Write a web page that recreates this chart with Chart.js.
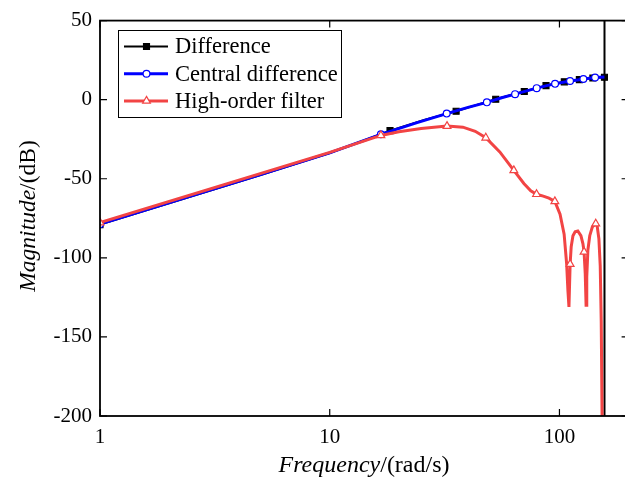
<!DOCTYPE html>
<html>
<head>
<meta charset="utf-8">
<script src="https://cdn.jsdelivr.net/npm/chart.js@4.4.1/dist/chart.umd.min.js"></script>
<style>
html, body { margin: 0; padding: 0; overflow: hidden; background: #fff; }
canvas { display: block; }
</style>
</head>
<body>
<canvas id="bode" width="632" height="484"></canvas>
<script>
// values: frequency in rad/s, magnitude in dB
const diffFreq = [1, 5, 10, 18.3, 26, 35.5, 44, 52.8, 61, 70.3, 78, 87.4, 96, 105, 113, 122.1, 131, 139.8, 148, 157, 157.08, 157.08];
const diffMag = [-79.0, -47.6, -33.8, -19.6, -12.6, -7.3, -3.1, 0.3, 2.9, 5.2, 7.0, 8.9, 10.2, 11.3, 12.0, 12.7, 13.3, 13.7, 14.0, 14.2, 60, -260];
const diffMarkFreq = [1, 18.3, 35.5, 52.8, 70.3, 87.4, 105, 122.1, 139.8, 157];
const diffMarkMag = [-79.0, -19.6, -7.3, 0.3, 5.2, 8.9, 11.3, 12.7, 13.7, 14.2];

const centFreq = [1, 5, 10, 16.7, 24, 32.3, 40, 48.3, 56, 64.1, 72, 79.6, 88, 95.7, 104, 111.2, 120, 127.1, 135, 142.9, 150, 157];
const centMag = [-78.7, -47.4, -33.6, -21.9, -14.5, -8.8, -4.9, -1.7, 1.2, 3.5, 5.6, 7.3, 8.9, 10.0, 11.0, 11.8, 12.5, 13.1, 13.6, 14.0, 14.2, 14.3];
const centMarkFreq = [1, 16.7, 32.3, 48.3, 64.1, 79.6, 95.7, 111.2, 127.1, 142.9];
const centMarkMag = [-78.7, -21.9, -8.8, -1.7, 3.5, 7.3, 10.0, 11.8, 13.1, 14.0];

const filtFreq = [1, 10, 16.7, 20, 25, 32.4, 38, 43, 47.8, 55, 63.3, 70, 75, 79.5, 85, 90, 95.5, 100.6, 104.8, 107.5, 108.9, 110, 111.3, 112.5, 114.5, 117, 120.2, 124, 126.5, 128, 129.5, 130.6, 131.5, 133, 135.5, 139, 143.9, 146, 148.5, 150.5, 152, 153.3, 154.5];
const filtMag = [-77.7, -33.3, -22.6, -20.3, -18.2, -16.7, -17.4, -20.0, -24.1, -33.0, -44.7, -53.0, -57.6, -59.8, -61.0, -62.3, -64.3, -72.4, -85, -104, -121, -131, -104, -93, -86, -83.5, -83, -86, -91, -96.2, -110, -130, -112, -95, -86, -80.5, -78.4, -80, -88, -105, -140, -200, -260];
const filtMarkFreq = [1, 16.7, 32.4, 47.8, 63.3, 79.5, 95.5, 111.3, 128, 143.9];
const filtMarkMag = [-77.7, -22.6, -16.7, -24.1, -44.7, -59.8, -64.3, -104, -96.2, -78.4];

const xTickLabels = [1, 10, 100];
const yTickValues = [50, 0, -50, -100, -150, -200];
const seriesNames = ['Difference', 'Central difference', 'High-order filter'];

const RED = '#f24444';
const BLUE = '#0000ff';
const BLACK = '#000000';
const FONT = "'Liberation Serif', 'Times New Roman', serif";

const toPoints = (xs, ys) => xs.map((x, i) => ({ x: x, y: ys[i] }));

// inward ticks on all four sides + closed box, titles, legend
const frame = {
    id: 'frame',
    afterDraw(chart) {
        const { ctx, chartArea: a, scales } = chart;
        const xs = scales.x, ys = scales.y;
        ctx.save();
        ctx.strokeStyle = '#000';
        ctx.lineWidth = 1.2;
        ctx.beginPath();
        xs.ticks.forEach(t => {
            const px = xs.getPixelForValue(t.value);
            if (px < a.left - 0.5 || px > a.right + 0.5) return;
            const lg = Math.log10(t.value);
            const len = Math.abs(lg - Math.round(lg)) < 1e-9 ? 7 : 4;
            ctx.moveTo(px, a.bottom); ctx.lineTo(px, a.bottom - len);
            ctx.moveTo(px, a.top); ctx.lineTo(px, a.top + len);
        });
        yTickValues.forEach(v => {
            const py = ys.getPixelForValue(v);
            ctx.moveTo(a.left, py); ctx.lineTo(a.left + 7, py);
            ctx.moveTo(a.right, py); ctx.lineTo(a.right - 7, py);
        });
        ctx.stroke();
        ctx.lineWidth = 1.8;
        ctx.strokeRect(a.left, a.top, a.right - a.left, a.bottom - a.top);

        // axis titles (italic quantity + upright unit)
        ctx.fillStyle = '#000';
        ctx.textBaseline = 'middle';
        ctx.textAlign = 'left';
        const drawTitle = (it, rest, cx, cy, rot, size) => {
            ctx.save();
            ctx.translate(cx, cy);
            ctx.rotate(rot);
            ctx.font = 'italic ' + size + 'px ' + FONT;
            const w1 = ctx.measureText(it).width;
            ctx.font = size + 'px ' + FONT;
            const w2 = ctx.measureText(rest).width;
            const x0 = -(w1 + w2) / 2;
            ctx.font = 'italic ' + size + 'px ' + FONT;
            ctx.fillText(it, x0, 0);
            ctx.font = size + 'px ' + FONT;
            ctx.fillText(rest, x0 + w1, 0);
            ctx.restore();
        };
        drawTitle('Frequency', '/(rad/s)', 364, 466, 0, 24);
        drawTitle('Magnitude', '/(dB)', 29, 216, -Math.PI / 2, 23.5);

        // legend box
        const lx = 118, ly = 30, lw = 223, lh = 87;
        ctx.fillStyle = '#fff';
        ctx.fillRect(lx, ly, lw, lh);
        ctx.lineWidth = 1;
        ctx.strokeRect(lx + 0.5, ly + 0.5, lw, lh);
        const styles = [
            { color: BLACK, width: 2, point: 'rect', radius: 4.2, fill: BLACK },
            { color: BLUE, width: 3, point: 'circle', radius: 3.4, fill: '#fff' },
            { color: RED, width: 3, point: 'triangle', radius: 4.5, fill: '#fff' }
        ];
        seriesNames.forEach((name, i) => {
            const s = styles[i];
            const yy = 46.5 + i * 27.2;
            ctx.strokeStyle = s.color;
            ctx.lineWidth = s.width;
            ctx.beginPath();
            ctx.moveTo(124, yy); ctx.lineTo(168, yy);
            ctx.stroke();
            ctx.fillStyle = s.fill;
            ctx.lineWidth = 1.2;
            Chart.helpers.drawPoint(ctx, { pointStyle: s.point, radius: s.radius, rotation: 0, borderWidth: 1.2 }, 146.5, yy);
            ctx.fillStyle = '#000';
            ctx.font = '22.5px ' + FONT;
            ctx.textAlign = 'left';
            ctx.fillText(name, 175, yy + 1);
        });
        ctx.restore();
    }
};

const lineSet = (label, xs, ys, color, width) => ({
    label: label, data: toPoints(xs, ys),
    borderColor: color, borderWidth: width,
    pointRadius: 0, tension: 0, fill: false
});
const markSet = (label, xs, ys, color, style, radius, fill) => ({
    label: label, data: toPoints(xs, ys), showLine: false,
    pointStyle: style, pointRadius: radius,
    pointBackgroundColor: fill, pointBorderColor: color, pointBorderWidth: 1.2
});

new Chart(document.getElementById('bode'), {
    type: 'line',
    data: {
        // first dataset is painted last (on top)
        datasets: [
            markSet(seriesNames[2] + ' marks', filtMarkFreq, filtMarkMag, RED, 'triangle', 4.5, '#fff'),
            lineSet(seriesNames[2], filtFreq, filtMag, RED, 3),
            markSet(seriesNames[1] + ' marks', centMarkFreq, centMarkMag, BLUE, 'circle', 3.4, '#fff'),
            lineSet(seriesNames[1], centFreq, centMag, BLUE, 3),
            markSet(seriesNames[0] + ' marks', diffMarkFreq, diffMarkMag, BLACK, 'rect', 4.2, BLACK),
            lineSet(seriesNames[0], diffFreq, diffMag, BLACK, 2)
        ]
    },
    options: {
        responsive: false,
        animation: false,
        layout: { autoPadding: false, padding: { top: 20, right: 3.4, left: 0, bottom: 0 } },
        plugins: {
            legend: { display: false },
            tooltip: { enabled: false }
        },
        scales: {
            x: {
                type: 'logarithmic',
                bounds: 'data',
                min: 1,
                max: 200,
                grid: { display: false, drawTicks: false },
                border: { display: false },
                afterFit: s => { s.height = 68; },
                ticks: {
                    autoSkip: false,
                    maxRotation: 0,
                    padding: 9,
                    color: '#000',
                    font: { family: FONT, size: 21 },
                    callback: v => xTickLabels.includes(v) ? String(v) : null
                }
            },
            y: {
                min: -200,
                max: 50,
                grid: { display: false, drawTicks: false },
                border: { display: false },
                afterFit: s => { s.width = 100; },
                ticks: {
                    stepSize: 50,
                    padding: 8,
                    color: '#000',
                    font: { family: FONT, size: 21 }
                }
            }
        }
    },
    plugins: [frame]
});
</script>
</body>
</html>
